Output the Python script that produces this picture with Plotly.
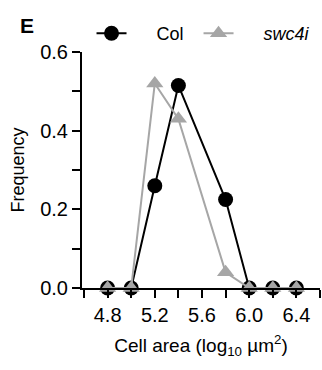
import plotly.graph_objects as go

# Data
col_x = [4.8, 5.0, 5.2, 5.4, 5.8, 6.0, 6.2, 6.4]
col_y = [0.0, 0.0, 0.26, 0.515, 0.225, 0.0, 0.0, 0.0]
swc_x = [4.8, 5.0, 5.2, 5.4, 5.8, 6.0, 6.2, 6.4]
swc_y = [0.0, 0.0, 0.52, 0.43, 0.04, 0.0, 0.0, 0.0]

x_tickvals = [4.6, 4.8, 5.0, 5.2, 5.4, 5.6, 5.8, 6.0, 6.2, 6.4, 6.6]
x_ticktext = ["", "4.8", "", "5.2", "", "5.6", "", "6.0", "", "6.4", ""]
y_tickvals = [0.0, 0.1, 0.2, 0.3, 0.4, 0.5, 0.6]
y_ticktext = ["0.0", "", "0.2", "", "0.4", "", "0.6"]

FONT = "Liberation Sans, Arial, sans-serif"
GREY = "#a6a6a6"
NB = "\u00a0"

fig = go.Figure()
fig.add_trace(go.Scatter(
    x=col_x, y=col_y, mode="lines+markers", name=NB * 5 + "Col" + NB * 2,
    line=dict(color="black", width=2),
    marker=dict(symbol="circle", size=15, color="black"),
    cliponaxis=False,
))
fig.add_trace(go.Scatter(
    x=swc_x, y=swc_y, mode="lines+markers", name=NB * 5 + "<i>swc4i</i>",
    line=dict(color=GREY, width=2),
    marker=dict(symbol="triangle-up", size=15, color=GREY),
    cliponaxis=False,
))

axis_common = dict(
    showline=True, linecolor="black", linewidth=2,
    ticks="outside", ticklen=8, tickwidth=2, tickcolor="black",
    showgrid=False, zeroline=False, automargin=False,
    tickfont=dict(family=FONT, size=20, color="black"),
)

fig.update_xaxes(
    range=[4.583, 6.6], tickmode="array", tickvals=x_tickvals, ticktext=x_ticktext,
    title=dict(text="Cell area (log<sub>10</sub> µm<sup>2</sup>)",
               font=dict(family=FONT, size=19, color="black"), standoff=14),
    **axis_common,
)
fig.update_yaxes(
    range=[0, 0.6], tickmode="array", tickvals=y_tickvals, ticktext=y_ticktext,
    title=dict(text="Frequency", font=dict(family=FONT, size=18, color="black"), standoff=11),
    **axis_common,
)

fig.update_layout(
    width=322, height=370,
    margin=dict(l=82, r=2, t=52, b=82),
    plot_bgcolor="white", paper_bgcolor="white",
    font=dict(family=FONT, size=18, color="black"),
    showlegend=True,
    legend=dict(
        orientation="h", x=0.04, y=1.0, xanchor="left", yanchor="bottom",
        font=dict(family=FONT, size=18, color="black"),
        bgcolor="rgba(0,0,0,0)",
        traceorder="normal",
    ),
    annotations=[dict(
        text="<b>E</b>", xref="paper", yref="paper", x=-0.27, y=1.0,
        yshift=40, xanchor="left", yanchor="top", showarrow=False,
        font=dict(family=FONT, size=21, color="black"),
    )],
)

fig.write_html(
    "out.html",
    config={"displayModeBar": False},
    post_script="document.body.style.margin='0';document.body.style.overflow='hidden';",
)
